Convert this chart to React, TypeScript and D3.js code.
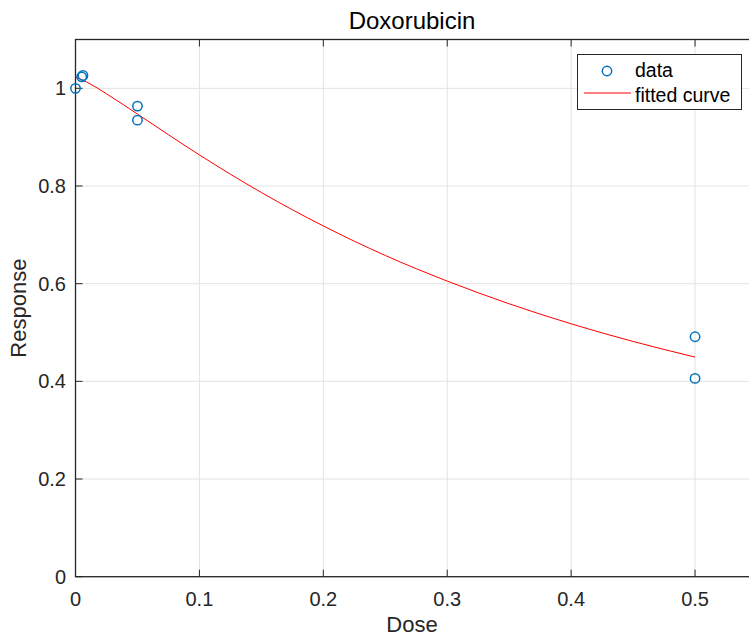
import React from "react";
import * as d3 from "d3";

const dataDose = [0, 0.005, 0.006, 0.05, 0.05, 0.5, 0.5];
const dataResp = [1.0, 1.0235, 1.0264, 0.9636, 0.9349, 0.4913, 0.4061];

const fitDose = [0, 0.01, 0.025, 0.05, 0.075, 0.1, 0.125, 0.15, 0.2, 0.25, 0.3, 0.35, 0.4, 0.45, 0.5];
const fitResp = [1.0235, 1.0117, 0.9889, 0.9473, 0.905, 0.8637, 0.8242, 0.7867, 0.7182, 0.6578, 0.6053, 0.5588, 0.5178, 0.4817, 0.4497];

const xTicks = [0, 0.1, 0.2, 0.3, 0.4, 0.5];
const yTicks = [0, 0.2, 0.4, 0.6, 0.8, 1];

const W = 749;
const H = 637;
const left = 75.5;
const top = 39.5;
const bottom = 576.7;
const right = 757;

export default function App() {
  const x = d3.scaleLinear().domain([0, 0.55]).range([left, right]);
  const y = d3.scaleLinear().domain([0, 1.1]).range([bottom, top]);
  const line = d3
    .line<number>()
    .x((_, i) => x(fitDose[i]))
    .y((d) => y(d))
    .curve(d3.curveMonotoneX);
  const axisColor = "#262626";
  const gridColor = "#e3e3e3";
  const font = "'Liberation Sans', Arial, Helvetica, sans-serif";
  return (
    <svg
      width={W}
      height={H}
      style={{ position: "absolute", left: 0, top: 0, display: "block", background: "#fff" }}
      fontFamily={font}
    >
      <rect x={0} y={0} width={W} height={H} fill="#fff" />
      {xTicks.map((t) => (
        <line key={"gx" + t} x1={x(t)} x2={x(t)} y1={top} y2={bottom} stroke={gridColor} strokeWidth={1} />
      ))}
      {yTicks.map((t) => (
        <line key={"gy" + t} x1={left} x2={right} y1={y(t)} y2={y(t)} stroke={gridColor} strokeWidth={1} />
      ))}
      {xTicks.map((t) => (
        <g key={"tx" + t}>
          <line x1={x(t)} x2={x(t)} y1={bottom} y2={bottom - 7} stroke={axisColor} strokeWidth={1} />
          <line x1={x(t)} x2={x(t)} y1={top} y2={top + 7} stroke={axisColor} strokeWidth={1} />
          <text x={x(t)} y={606} textAnchor="middle" fontSize={20} fill={axisColor}>
            {t === 0 ? "0" : d3.format(".1f")(t)}
          </text>
        </g>
      ))}
      {yTicks.map((t) => (
        <g key={"ty" + t}>
          <line x1={left} x2={left + 7} y1={y(t)} y2={y(t)} stroke={axisColor} strokeWidth={1} />
          <text x={66} y={y(t) + 7} textAnchor="end" fontSize={20} fill={axisColor}>
            {t === 0 || t === 1 ? String(t) : d3.format(".1f")(t)}
          </text>
        </g>
      ))}
      <rect x={left} y={top} width={right - left} height={bottom - top} fill="none" stroke={axisColor} strokeWidth={1.3} />
      <path d={line(fitResp) || ""} fill="none" stroke="#ff0000" strokeWidth={1} />
      {dataDose.map((d, i) => (
        <circle key={"p" + i} cx={x(d)} cy={y(dataResp[i])} r={4.7} fill="none" stroke="#0072BD" strokeWidth={1.5} />
      ))}
      <text x={412} y={29} textAnchor="middle" fontSize={24} fill="#000">
        Doxorubicin
      </text>
      <text x={412} y={632} textAnchor="middle" fontSize={22} fill={axisColor}>
        Dose
      </text>
      <text
        transform={`translate(26,${(top + bottom) / 2}) rotate(-90)`}
        textAnchor="middle"
        fontSize={22}
        fill={axisColor}
      >
        Response
      </text>
      <rect x={577.5} y={54.5} width={164} height={55} fill="#fff" stroke={axisColor} strokeWidth={1} />
      <circle cx={607} cy={71} r={4.7} fill="none" stroke="#0072BD" strokeWidth={1.5} />
      <text x={635} y={77} fontSize={19.5} fill="#000">
        data
      </text>
      <line x1={584} x2={631} y1={93} y2={93} stroke="#ff0000" strokeWidth={1} />
      <text x={635} y={102} fontSize={19.5} fill="#000">
        fitted curve
      </text>
    </svg>
  );
}
